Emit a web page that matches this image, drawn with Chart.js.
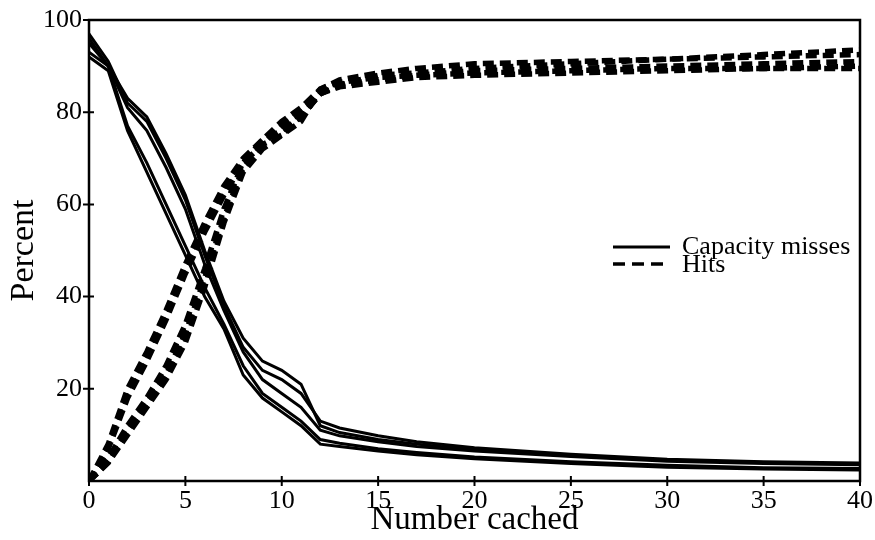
<!DOCTYPE html>
<html>
<head>
<meta charset="utf-8">
<script src="https://cdn.jsdelivr.net/npm/chart.js@4.4.1/dist/chart.umd.min.js"></script>
<style>
  html, body { margin: 0; padding: 0; background: #fff; }
</style>
</head>
<body>
<canvas id="chart" width="875" height="540"></canvas>
<script>
// x values (number cached)
const cached = [0, 1, 2, 3, 4, 5, 6, 7, 8, 9, 10, 11, 12, 13, 15, 17, 20, 25, 30, 35, 40];

// capacity misses, one array per run
const missesA = [92, 89, 76, 67, 58, 49, 40, 33, 23, 18, 15, 12, 8, 7.5, 6.5, 5.7, 4.8, 3.8, 3.0, 2.6, 2.4];
const missesB = [93, 90, 77, 69, 60, 51, 42, 34, 25, 19, 16, 13, 9, 8.2, 7, 6.2, 5.2, 4.2, 3.4, 2.9, 2.7];
const missesC = [97, 91, 82, 78, 70, 61, 49, 38, 29, 24, 22, 19, 13, 11.5, 9.8, 8.5, 7.2, 5.8, 4.7, 4.2, 3.9];
const missesD = [95, 90, 81, 76, 68, 59, 47, 37, 28, 22, 19, 16, 11, 9.8, 8.5, 7.5, 6.5, 5.3, 4.3, 3.8, 3.5];
const missesE = [96, 90, 83, 79, 71, 62, 50, 39, 31, 26, 24, 21, 12, 10.5, 9, 8, 6.8, 5.5, 4.5, 4.0, 3.7];

// hits, one array per run
const hitsA = [0, 8, 20, 28, 37, 47, 56, 64, 70, 74, 76, 79, 84, 86, 88, 88.5, 89.5, 90.5, 91.5, 92.5, 93.5];
const hitsB = [0, 7, 18, 26, 35, 45, 54, 62, 69, 73, 75, 78, 85, 86.5, 87.5, 88, 88.5, 89, 89.5, 89.5, 89.5];
const hitsC = [0, 4, 11, 17, 23, 32, 44, 57, 68, 73, 77, 80, 84, 85.5, 86.5, 87.5, 88, 88.5, 89, 89.5, 90];
const hitsD = [0, 5, 12, 18, 25, 34, 46, 59, 69, 74, 78, 81, 85, 87, 88.5, 89.5, 90.5, 91, 91.5, 92, 92.5];
const hitsE = [0, 4, 10, 16, 22, 30, 42, 56, 67, 72, 75, 79, 84, 86, 87, 88, 89, 89.5, 90, 90.5, 91];

const xTicks = [0, 5, 10, 15, 20, 25, 30, 35, 40];
const yTicks = [20, 40, 60, 80, 100];

const FONT = "'Liberation Serif', 'DejaVu Serif', serif";

function pts(ys) {
  return ys.map(function (y, i) { return { x: cached[i], y: y }; });
}

function missSet(ys) {
  return { data: pts(ys), borderColor: '#000', borderWidth: 3, pointRadius: 0, tension: 0, fill: false };
}

function hitSet(ys) {
  return { data: pts(ys), borderColor: '#000', borderWidth: 5.5, borderDash: [11, 6], pointRadius: 0, tension: 0, fill: false };
}

/* ticks crossing the axes + box around the plot */
const frame = {
  id: 'frame',
  afterDraw(chart) {
    const ctx = chart.ctx, a = chart.chartArea;
    const sx = chart.scales.x, sy = chart.scales.y;
    ctx.save();
    ctx.strokeStyle = '#000';
    ctx.lineWidth = 2;
    ctx.beginPath();
    xTicks.forEach(function (v) {
      const px = sx.getPixelForValue(v);
      ctx.moveTo(px, a.bottom - 5);
      ctx.lineTo(px, a.bottom + 5);
    });
    yTicks.forEach(function (v) {
      const py = sy.getPixelForValue(v);
      ctx.moveTo(a.left - 6, py);
      ctx.lineTo(v === 100 ? a.left : a.left + 5, py);
    });
    ctx.stroke();
    ctx.lineWidth = 2.5;
    ctx.strokeRect(a.left, a.top, a.right - a.left, a.bottom - a.top);
    ctx.restore();
  }
};

/* legend inside the plot, right side */
const keyBox = {
  id: 'keyBox',
  afterDraw(chart) {
    const ctx = chart.ctx, a = chart.chartArea;
    const x0 = a.right - 247, y0 = a.top + 227;
    ctx.save();
    ctx.strokeStyle = '#000';
    ctx.beginPath();
    ctx.lineWidth = 3;
    ctx.moveTo(x0, y0);
    ctx.lineTo(x0 + 57, y0);
    ctx.stroke();
    ctx.beginPath();
    ctx.lineWidth = 3.5;
    ctx.setLineDash([12, 7]);
    ctx.moveTo(x0, y0 + 17);
    ctx.lineTo(x0 + 57, y0 + 17);
    ctx.stroke();
    ctx.setLineDash([]);
    ctx.fillStyle = '#000';
    ctx.font = '26px ' + FONT;
    ctx.textBaseline = 'alphabetic';
    ctx.fillText('Capacity misses', x0 + 69, y0 + 7);
    ctx.fillText('Hits', x0 + 69, y0 + 25);
    ctx.restore();
  }
};

new Chart(document.getElementById('chart'), {
  type: 'line',
  data: {
    datasets: [
      missSet(missesA), missSet(missesB), missSet(missesC), missSet(missesD), missSet(missesE),
      hitSet(hitsA), hitSet(hitsB), hitSet(hitsC), hitSet(hitsD), hitSet(hitsE)
    ]
  },
  options: {
    responsive: false,
    animation: false,
    layout: { padding: { top: 20, right: 15, left: 0, bottom: 0 } },
    plugins: { legend: { display: false }, tooltip: { enabled: false } },
    scales: {
      x: {
        type: 'linear', min: 0, max: 40,
        afterBuildTicks: function (s) { s.ticks = xTicks.map(function (v) { return { value: v }; }); },
        afterFit: function (s) { s.height = 59; s.paddingLeft = 0; s.paddingRight = 0; },
        grid: { display: false, drawTicks: false },
        border: { display: false },
        ticks: { color: '#000', padding: 5, maxRotation: 0, font: { family: FONT, size: 26 } },
        title: { display: true, text: 'Number cached', color: '#000', padding: 0, font: { family: FONT, size: 33 } }
      },
      y: {
        type: 'linear', min: 0, max: 100,
        afterBuildTicks: function (s) { s.ticks = yTicks.map(function (v) { return { value: v }; }); },
        afterFit: function (s) { s.width = 89; s.paddingTop = 0; s.paddingBottom = 0; },
        grid: { display: false, drawTicks: false },
        border: { display: false },
        ticks: { color: '#000', padding: 7, font: { family: FONT, size: 26 } },
        title: { display: true, text: 'Percent', color: '#000', padding: { top: 4, bottom: 0 }, font: { family: FONT, size: 34 } }
      }
    }
  },
  plugins: [frame, keyBox]
});
</script>
</body>
</html>
